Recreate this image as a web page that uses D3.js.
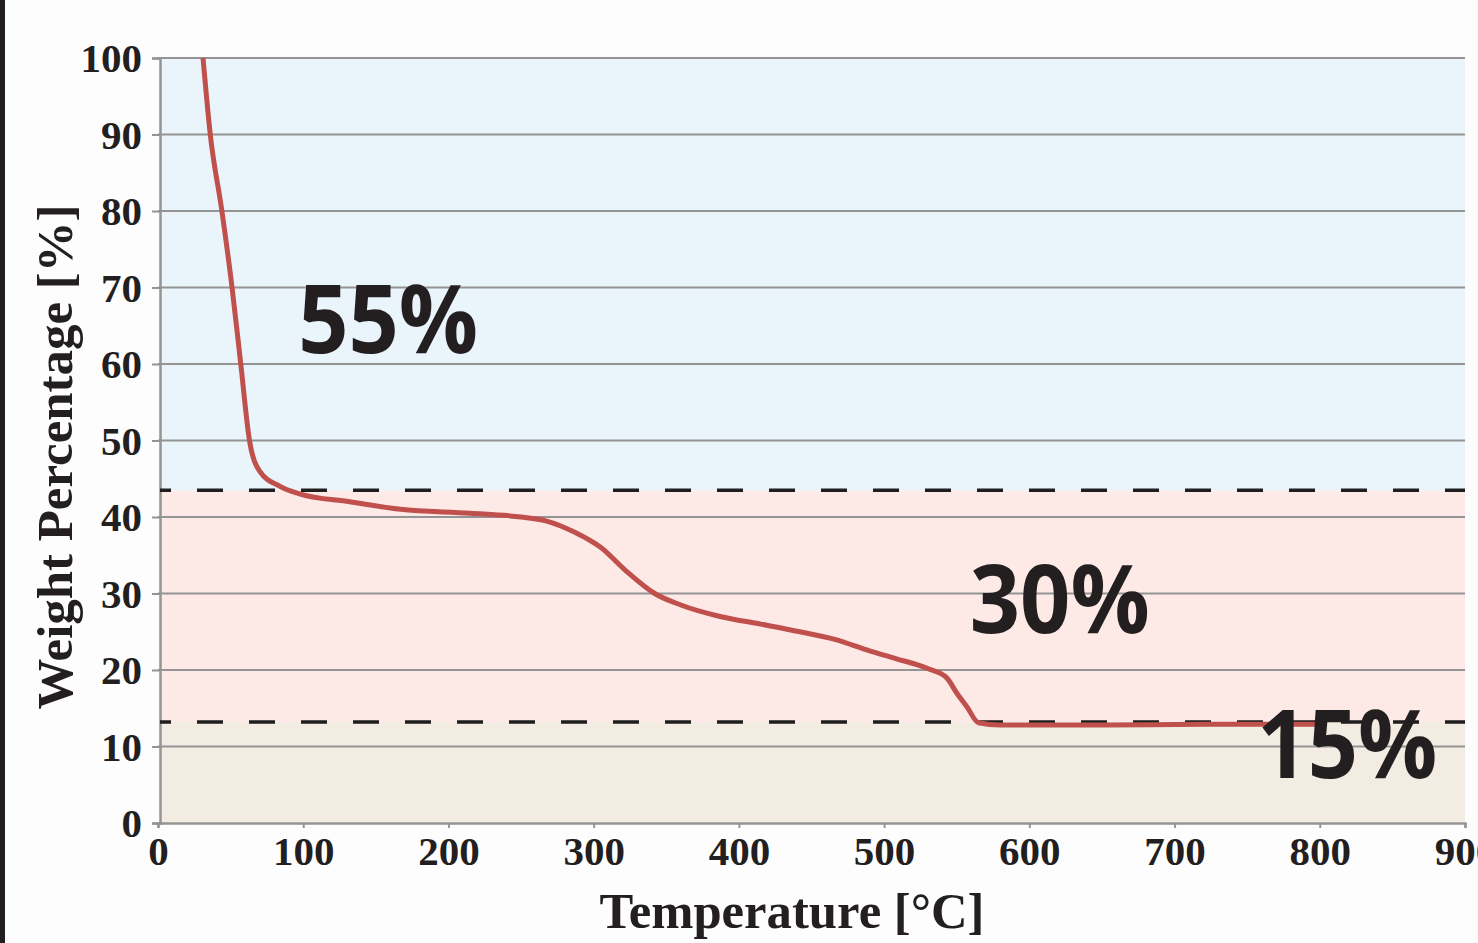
<!DOCTYPE html>
<html>
<head>
<meta charset="utf-8">
<script src="https://cdn.jsdelivr.net/npm/d3@7"></script>
<style>
  body { margin: 0; background: #fdfdfd; }
  svg { display: block; }
</style>
</head>
<body>
<svg width="1478" height="943"></svg>
<script>
// TGA curve
var temps   = [31, 36, 44, 51, 57, 63, 70, 84, 98, 132, 167, 215, 250, 267, 287, 305, 322, 342, 360, 387, 415, 442, 466, 490, 508, 530, 543, 550, 557, 565, 580, 650, 720, 798];
var weights = [100, 90, 80, 70, 60, 50, 46, 44, 43, 42, 41, 40.5, 40, 39.5, 38, 36, 33, 30, 28.5, 27, 26, 25, 24, 22.5, 21.5, 20.2, 19, 17, 15.2, 13.1, 12.8, 12.8, 12.9, 12.9];

var xTicks = [0, 100, 200, 300, 400, 500, 600, 700, 800, 900];
var yTicks = [0, 10, 20, 30, 40, 50, 60, 70, 80, 90, 100];

// stages: lower / upper weight bound, fill
var bandLow   = [0, 13.2, 43.5];
var bandHigh  = [13.2, 43.5, 100];
var bandColor = ["#f3ece2", "#fde9e6", "#eaf4fb"];
var cutLines  = [43.5, 13.2];

var stageText = ["55%", "30%", "15%"];
var stageX    = [96.5, 559, 757];
var stageY    = [61.4, 24.8, 5.9];

(function () {
    'use strict';

    var svg = d3.select("svg");

    var x = d3.scaleLinear().domain([0, 900]).range([158, 1465]);
    var y = d3.scaleLinear().domain([0, 100]).range([823, 58]);

    // dark strip at the left edge
    svg.append("rect")
        .attr("x", 0).attr("y", 0)
        .attr("width", 5).attr("height", 943)
        .attr("fill", "#231f20");

    svg.selectAll(".band")
        .data(bandLow)
        .enter().append("rect")
        .attr("class", "band")
        .attr("x", x(0) + 2)
        .attr("width", x(900) - x(0) - 2)
        .attr("y", function (d, i) { return y(bandHigh[i]); })
        .attr("height", function (d, i) { return y(d) - y(bandHigh[i]); })
        .attr("fill", function (d, i) { return bandColor[i]; });

    // grid
    svg.append("g")
        .selectAll("line")
        .data(yTicks.slice(1))
        .enter().append("line")
        .attr("x1", x(0)).attr("x2", x(900))
        .attr("y1", function (d) { return y(d); })
        .attr("y2", function (d) { return y(d); })
        .attr("stroke", "#949494")
        .attr("stroke-width", 2);

    var yAxis = svg.append("g")
        .attr("transform", "translate(" + (x(0) + 2) + ",0)")
        .call(d3.axisLeft(y).tickValues(yTicks).tickSize(8).tickPadding(10));

    var xAxis = svg.append("g")
        .attr("transform", "translate(0," + y(0) + ")")
        .call(d3.axisBottom(x).tickValues(xTicks).tickSize(5).tickPadding(7));

    [yAxis, xAxis].forEach(function (g) {
        g.select(".domain").attr("stroke", "#949494").attr("stroke-width", 2.5);
        g.selectAll(".tick line").attr("stroke", "#949494").attr("stroke-width", 2);
        g.selectAll(".tick text")
            .attr("fill", "#231f20")
            .style("font-family", "'Liberation Serif', 'Times New Roman', serif")
            .style("font-weight", "bold")
            .style("font-size", "41px");
    });
    xAxis.selectAll(".tick text").attr("dy", "0.72em");
    yAxis.selectAll(".tick text").attr("dy", "0.33em");

    // stage boundaries
    svg.selectAll(".cut")
        .data(cutLines)
        .enter().append("line")
        .attr("class", "cut")
        .attr("x1", x(0) + 2).attr("x2", x(900))
        .attr("y1", function (d) { return y(d); })
        .attr("y2", function (d) { return y(d); })
        .attr("stroke", "#1e1e1e")
        .attr("stroke-width", 3.5)
        .attr("stroke-dasharray", "26,26")
        .attr("stroke-dashoffset", 15);

    var line = d3.line()
        .x(function (d) { return x(d); })
        .y(function (d, i) { return y(weights[i]); })
        .curve(d3.curveMonotoneX);

    svg.append("path")
        .datum(temps)
        .attr("d", line)
        .attr("fill", "none")
        .attr("stroke", "#c0504b")
        .attr("stroke-width", 5)
        .attr("stroke-linejoin", "round");

    svg.selectAll(".stage")
        .data(stageText)
        .enter().append("text")
        .attr("class", "stage")
        .attr("x", function (d, i) { return x(stageX[i]); })
        .attr("y", function (d, i) { return y(stageY[i]); })
        .attr("fill", "#231f20")
        .style("font-family", "'Open Sans', sans-serif")
        .style("font-weight", "bold")
        .style("font-size", "95px")
        .attr("textLength", 180)
        .attr("lengthAdjust", "spacingAndGlyphs")
        .text(function (d) { return d; });

    svg.append("text")
        .attr("transform", "translate(72,457) rotate(-90)")
        .attr("text-anchor", "middle")
        .attr("fill", "#231f20")
        .style("font-family", "'Liberation Serif', 'Times New Roman', serif")
        .style("font-weight", "bold")
        .style("font-size", "50px")
        .attr("textLength", 505)
        .attr("lengthAdjust", "spacingAndGlyphs")
        .text("Weight Percentage [%]");

    svg.append("text")
        .attr("x", 792).attr("y", 928)
        .attr("text-anchor", "middle")
        .attr("fill", "#231f20")
        .style("font-family", "'Liberation Serif', 'Times New Roman', serif")
        .style("font-weight", "bold")
        .style("font-size", "50px")
        .attr("textLength", 385)
        .attr("lengthAdjust", "spacingAndGlyphs")
        .text("Temperature [°C]");
}());
</script>
</body>
</html>
